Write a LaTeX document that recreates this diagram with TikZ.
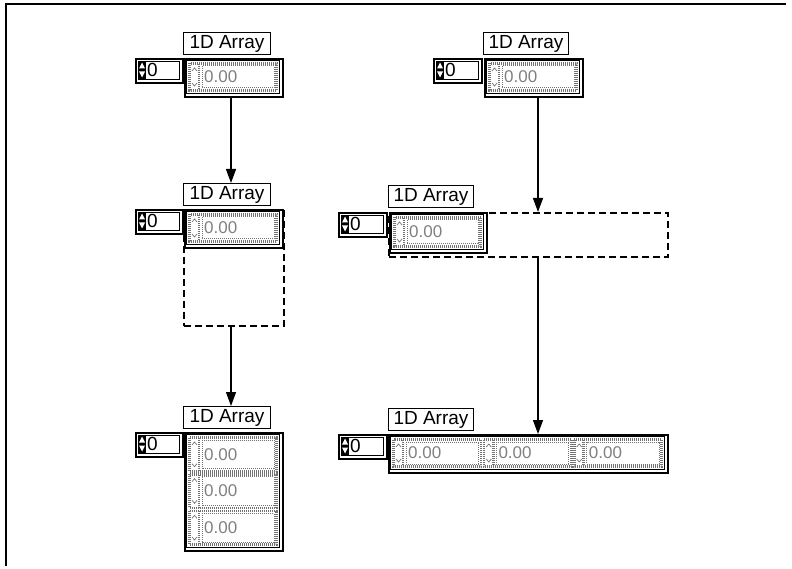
\documentclass[tikz,border=0pt]{standalone}
\usepackage{fontspec}
\setmainfont{Liberation Sans}
\usetikzlibrary{arrows.meta}
\tikzset{
  lbl/.style={draw, line width=1pt, anchor=north west, inner sep=0pt, minimum height=22pt, font=\fontsize{19}{19}\selectfont},
  idxbox/.style={draw, line width=1.6pt, anchor=north west, inner sep=0pt},
  arrframe/.style={draw, line width=2pt, anchor=north west, inner sep=0pt},
  dashbox/.style={draw, line width=1.6pt, dash pattern=on 7pt off 4pt, anchor=north west, inner sep=0pt},
  dotline/.style={draw=black!55, line width=2.6pt, dash pattern=on 1pt off 1pt},
  chev/.style={draw=black!55, line width=0.7pt},
  valtext/.style={text=black!50, anchor=west, inner sep=0pt, font=\fontsize{17}{17}\selectfont},
  conn/.style={line width=1.3pt, -{Triangle[width=10pt,length=14pt]}},
}
% label: name, x, y, width
\newcommand{\arrlabel}[4]{\node[lbl, minimum width=#4pt] (#1) at (#2,#3) {1D Array};}
% index control: name, x, y, w, h
\newcommand{\indexctl}[5]{%
  \node[idxbox, minimum width=#4pt, minimum height=#5pt] (#1) at (#2,#3) {};
  \draw[line width=0.8pt] ({#2+3},{#3+3}) rectangle ({#2+#4-3},{#3+#5-3});
  \fill ({#2+3},{#3+3}) rectangle ({#2+11},{#3+#5-3});
  \fill[white] ({#2+4},{#3+#5/2-1.5}) -- ({#2+10},{#3+#5/2-1.5}) -- ({#2+7},{#3+#5/2-7.5}) -- cycle;
  \fill[white] ({#2+4},{#3+#5/2+1.5}) -- ({#2+10},{#3+#5/2+1.5}) -- ({#2+7},{#3+#5/2+7.5}) -- cycle;
  \node[anchor=west, inner sep=0pt, font=\fontsize{19}{19}\selectfont] (#1-t) at ({#2+12},{#3+#5/2}) {0};
}
% array frame: name, x, y, w, h
\newcommand{\arrbox}[5]{%
  \node[arrframe, minimum width=#4pt, minimum height=#5pt] (#1) at (#2,#3) {};
  \draw[line width=0.7pt] ({#2+2.5},{#3+2.5}) rectangle ({#2+#4-2.5},{#3+#5-2.5});
}
% element cell: name, x1, y1, x2, y2
\newcommand{\ecell}[5]{%
  \draw[dotline] ({#2+1.5},{#3+1.5}) rectangle ({#4-1.5},{#5-1.5});
  \draw[dotline] ({#2+11},{#3+2}) -- ({#2+11},{#5-2});
  \draw[dotline, line width=1pt] ({#2+14},{#3+4}) rectangle ({#4-4},{#5-4});
  \draw[chev] ({#2+4},{#3+9}) -- ({#2+6.5},{#3+6}) -- ({#2+9},{#3+9});
  \draw[chev] ({#2+4},{#5-9}) -- ({#2+6.5},{#5-6}) -- ({#2+9},{#5-9});
  \node[valtext] (#1) at ({#2+16},{(#3+#5)/2}) {0.00};
}
\begin{document}
\begin{tikzpicture}[x=1pt,y=-1pt]
\useasboundingbox (0,0) rectangle (792,569);
\coordinate (fa) at (6,566);
\coordinate (fb) at (6,4);
\coordinate (fc) at (786,4);
\draw[line width=1.5pt] (fa) -- (fb) -- (fc);

% ---------- top left
\arrlabel{tll}{183}{32}{87}
\indexctl{tli}{135}{58}{47}{24}
\arrbox{tlf}{184}{58}{98}{38}
\ecell{tlc}{188}{62}{278}{92}

% ---------- middle left
\arrlabel{mll}{183}{183}{87}
\indexctl{mli}{135}{209}{47}{24}
\arrbox{mlf}{184}{209}{98}{38}
\ecell{mlc}{188}{213}{278}{243}
\node[dashbox, minimum width=100pt, minimum height=116pt] (mld) at (183,209) {};

% ---------- bottom left
\arrlabel{bll}{183}{406}{87}
\indexctl{bli}{135}{432}{47}{24}
\arrbox{blf}{184}{432}{98}{118}
\ecell{blc1}{188}{436}{278}{472.7}
\ecell{blc2}{188}{472.7}{278}{509.3}
\ecell{blc3}{188}{509.3}{278}{546}

% ---------- top right
\arrlabel{trl}{483}{32}{85}
\indexctl{tri}{433}{58}{48}{24}
\arrbox{trf}{484}{58}{98}{38}
\ecell{trc}{488}{62}{578}{92}

% ---------- middle right
\arrlabel{mrl}{388}{185}{85}
\indexctl{mri}{338}{212}{48}{24}
\arrbox{mrf}{389}{212}{97}{40}
\ecell{mrc}{393}{216}{482}{248}
\node[dashbox, minimum width=279pt, minimum height=44pt] (mrd) at (388,212) {};

% ---------- bottom right
\arrlabel{brl}{388}{408}{85}
\indexctl{bri}{338}{434}{48}{24}
\arrbox{brf}{388}{434}{279}{38}
\ecell{brc1}{392}{438}{482.3}{468}
\ecell{brc2}{482.3}{438}{572.7}{468}
\ecell{brc3}{572.7}{438}{663}{468}

% ---------- connectors
\coordinate (la) at ([xshift=-3pt]tlf.south);
\coordinate (ra) at ([xshift=4pt]trf.south);
\draw[conn] (la) -- (la |- mll.north);
\draw[conn] (la |- mld.south) -- (la |- bll.north);
\draw[conn] (ra) -- (ra |- mrd.north);
\draw[conn] (ra |- mrd.south) -- (ra |- brf.north);
\end{tikzpicture}
\end{document}
